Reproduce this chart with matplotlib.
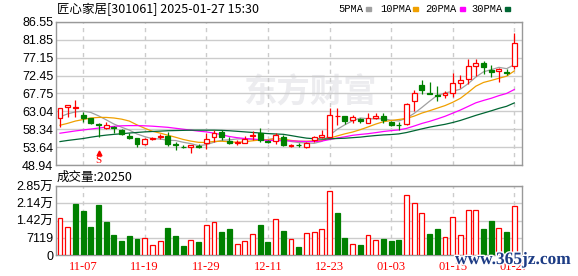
import matplotlib
matplotlib.use("Agg")
import matplotlib.pyplot as plt
from matplotlib.patches import Rectangle
import matplotlib.patheffects as pe

# -----------------------------
# Data
# -----------------------------
dates = ["11-04", "11-05", "11-06", "11-07", "11-08", "11-11", "11-12", "11-13", "11-14", "11-15",
         "11-18", "11-19", "11-20", "11-21", "11-22", "11-25", "11-26", "11-27", "11-28", "11-29",
         "12-02", "12-03", "12-04", "12-05", "12-06", "12-09", "12-10", "12-11", "12-12", "12-13",
         "12-16", "12-17", "12-18", "12-19", "12-20", "12-23", "12-24", "12-25", "12-26", "12-27",
         "12-30", "12-31", "01-02", "01-03", "01-06", "01-07", "01-08", "01-09", "01-10", "01-13",
         "01-14", "01-15", "01-16", "01-17", "01-20", "01-21", "01-22", "01-23", "01-24", "01-27"]

opens = [61.2, 64.3, 63.9, 62.1, 61.2, 59.7, 58.6, 59.0, 58.1, 56.6,
         56.0, 54.4, 55.8, 56.2, 56.6, 54.4, 53.8, 53.6, 54.0, 54.8,
         56.2, 57.7, 55.2, 54.8, 54.8, 56.5, 57.3, 55.3, 55.3, 56.4,
         53.9, 54.3, 53.8, 55.4, 56.4, 56.4, 61.7, 61.8, 60.8, 61.0,
         60.1, 61.4, 61.8, 60.3, 59.5, 59.7, 65.7, 70.0, 67.9, 67.3,
         67.3, 67.9, 70.4, 71.5, 75.1, 75.8, 73.9, 73.7, 73.4, 74.9]
highs = [64.0, 64.8, 66.0, 62.9, 61.4, 59.9, 60.3, 59.2, 58.5, 57.4,
         56.0, 56.0, 56.2, 57.0, 57.7, 55.1, 54.2, 54.3, 54.4, 57.3,
         58.1, 58.1, 56.4, 55.6, 56.6, 58.0, 58.6, 55.6, 57.4, 56.8,
         54.4, 54.6, 55.0, 56.5, 58.1, 63.8, 63.8, 61.9, 62.1, 61.4,
         62.7, 62.5, 62.5, 60.6, 60.3, 65.2, 68.6, 71.3, 70.8, 69.7,
         68.4, 73.2, 72.6, 76.7, 76.7, 76.4, 75.2, 74.4, 74.3, 83.7]
lows = [59.0, 61.6, 61.5, 60.3, 59.8, 56.4, 58.5, 57.4, 56.8, 55.9,
        53.7, 54.3, 55.6, 55.7, 54.0, 52.9, 53.4, 52.2, 53.4, 53.2,
        55.1, 55.5, 54.4, 54.2, 54.6, 55.5, 55.0, 54.8, 54.4, 53.9,
        53.6, 53.6, 53.5, 54.9, 56.0, 56.2, 59.4, 59.7, 59.9, 60.0,
        60.0, 61.0, 60.05, 59.2, 58.1, 59.5, 63.2, 67.6, 67.5, 65.8,
        66.6, 66.9, 69.3, 70.2, 72.3, 72.9, 72.1, 70.8, 72.6, 74.3]
closes = [63.9, 64.7, 64.1, 61.2, 59.9, 59.5, 59.4, 58.6, 57.0, 56.1,
          54.4, 55.9, 56.0, 56.5, 54.4, 54.1, 53.6, 54.2, 53.8, 55.7,
          57.3, 56.2, 54.8, 55.0, 55.7, 56.8, 55.5, 55.0, 56.8, 54.2,
          54.1, 54.1, 54.6, 56.2, 56.8, 62.1, 61.9, 60.6, 61.5, 60.4,
          61.2, 61.7, 60.8, 59.5, 59.4, 64.9, 68.0, 68.6, 67.7, 67.1,
          67.9, 70.4, 71.3, 74.9, 75.8, 74.8, 73.3, 74.3, 73.2, 80.9]

volumes = [15136, 11421, 21053, 18163, 11558, 20640, 13622, 8256, 5779, 7843,
           6605, 6880, 3990, 5642, 11146, 7843, 3715, 6054, 5366, 12384,
           13485, 9494, 10733, 4541, 5642, 8531, 12384, 5366, 14861, 9907,
           6467, 3302, 8944, 9357, 10595, 26419, 17338, 7018, 4403, 4128,
           8118, 6054, 6605, 5779, 6192, 24630, 21328, 17200, 8669, 10733,
           7293, 15549, 8118, 18576, 18576, 10733, 14035, 11146, 9494, 20250]
# 1 = up day (red hollow bar), 0 = down day (green bar)
vol_up = [1, 1, 0, 0, 0, 0, 0, 0, 0, 0,
          0, 1, 1, 1, 0, 0, 0, 1, 0, 1,
          1, 0, 0, 1, 1, 1, 0, 0, 1, 0,
          1, 0, 1, 1, 1, 1, 0, 0, 1, 0,
          1, 1, 0, 0, 0, 1, 1, 1, 0, 0,
          1, 1, 1, 1, 1, 0, 0, 1, 0, 1]

ma5 = [61.6, 62.4, 62.9, 63.1, 62.76, 61.88, 60.82, 59.72, 58.88, 58.12,
       57.10, 56.40, 55.88, 55.78, 55.44, 55.38, 54.92, 54.56, 54.02, 54.28,
       54.92, 55.44, 55.56, 55.80, 55.80, 55.70, 55.56, 55.60, 55.96, 55.66,
       55.12, 54.84, 54.76, 54.64, 55.16, 56.76, 58.32, 59.52, 60.58, 61.30,
       61.12, 61.08, 61.12, 60.72, 60.52, 61.26, 62.52, 64.08, 65.72, 67.26,
       67.86, 68.34, 68.88, 70.32, 72.06, 73.44, 74.02, 74.62, 74.28, 75.30]
ma10 = [59.4, 59.9, 60.5, 60.9, 61.3, 61.45, 61.45, 61.3, 61.0, 60.5,
        59.49, 58.61, 57.80, 57.33, 56.78, 56.24, 55.66, 55.22, 54.90, 54.86,
        55.15, 55.18, 55.06, 54.91, 55.04, 55.31, 55.50, 55.58, 55.88, 55.73,
        55.41, 55.20, 55.18, 55.30, 55.41, 55.94, 56.58, 57.14, 57.61, 58.23,
        58.94, 59.70, 60.32, 60.65, 60.91, 61.19, 61.80, 62.60, 63.22, 63.89,
        64.56, 65.43, 66.48, 68.02, 69.66, 70.65, 71.18, 71.75, 72.30, 73.68]
ma20 = [57.3, 57.6, 57.9, 58.15, 58.4, 58.65, 58.9, 59.1, 59.25, 59.3,
        59.3, 59.25, 59.15, 59.0, 58.85, 58.6, 58.35, 58.1, 57.85, 57.65,
        57.32, 56.90, 56.43, 56.12, 55.91, 55.78, 55.58, 55.40, 55.39, 55.30,
        55.28, 55.19, 55.12, 55.11, 55.23, 55.63, 56.04, 56.36, 56.75, 56.98,
        57.18, 57.45, 57.75, 57.98, 58.16, 58.57, 59.19, 59.87, 60.42, 61.06,
        61.75, 62.57, 63.40, 64.34, 65.29, 65.92, 66.49, 67.18, 67.76, 68.79]
ma30 = [55.1, 55.4, 55.65, 55.9, 56.25, 56.55, 56.8, 57.0, 57.15, 57.35,
        57.5, 57.65, 57.75, 57.85, 57.95, 58.0, 58.05, 58.1, 58.1, 58.1,
        58.1, 58.05, 57.95, 57.8, 57.65, 57.5, 57.35, 57.2, 57.1, 57.01,
        56.68, 56.33, 56.01, 55.85, 55.74, 55.83, 55.91, 55.98, 56.13, 56.27,
        56.50, 56.69, 56.85, 56.95, 57.12, 57.48, 57.96, 58.44, 58.90, 59.28,
        59.64, 60.11, 60.66, 61.32, 61.99, 62.59, 63.19, 63.83, 64.38, 65.27]

price_ticks = [48.94, 53.64, 58.34, 63.04, 67.75, 72.45, 77.15, 81.85, 86.55]
vol_ticks = [0, 7119, 14238, 21357, 28476]
vol_tick_labels = ["0", "7119", "1.42万", "2.14万", "2.85万"]
date_tick_idx = [3, 11, 19, 27, 35, 43, 51, 59]

title = "匠心家居[301061] 2025-01-27 15:30"
vol_title = "成交量:20250"
ma_names = ["5PMA", "10PMA", "20PMA", "30PMA"]

# -----------------------------
# Style
# -----------------------------
RED = "#ff0000"
GREEN = "#008000"
MA_COLORS = ["#a0a0a0", "#f0a000", "#ff00ff", "#006633"]
GRID = "#cccccc"
SPINE = "#999999"
CJK = ["Noto Sans CJK SC", "DejaVu Sans"]

W, H = 578, 276
fig = plt.figure(figsize=(W / 100, H / 100), dpi=100)


def box(l, t, r, b):
    return [l / W, 1 - b / H, (r - l) / W, (b - t) / H]


ax = fig.add_axes(box(56, 22, 522, 165))
axv = fig.add_axes(box(56, 186, 522, 255), sharex=ax)

x = list(range(len(dates)))
BW = 0.64

# -----------------------------
# Candles
# -----------------------------
for i in x:
    o, h, l, c = opens[i], highs[i], lows[i], closes[i]
    up = c >= o
    col = RED if up else GREEN
    ax.vlines(i, l, h, color=col, lw=0.9, zorder=3)
    lo = min(o, c)
    hgt = max(abs(c - o), 0.12)
    ax.bar(i, hgt, bottom=lo, width=BW, facecolor="white" if up else GREEN,
           edgecolor=col, lw=0.9, zorder=4)

for vals, col in zip([ma5, ma10, ma20, ma30], MA_COLORS):
    ax.plot(x, vals, color=col, lw=0.9, zorder=2.5)

ax.set_xlim(-0.52, 60.0)
ax.set_ylim(price_ticks[0], price_ticks[-1])
ax.set_yticks(price_ticks)
ax.set_yticklabels([f"{v:.2f}" for v in price_ticks], family="Liberation Sans", fontsize=9)
ax.set_axisbelow(True)
ax.yaxis.grid(True, color=GRID, lw=1)
ax.set_xticks(date_tick_idx)
ax.xaxis.grid(True, color=GRID, lw=1, linestyle=(0, (3, 3)))
ax.tick_params(axis="x", labelbottom=False, length=0)
ax.tick_params(axis="y", length=0, pad=2)

# watermark
ax.text(0.545, 0.5, "东方财富", transform=ax.transAxes, ha="center", va="center",
        fontsize=24, fontweight="bold", family=CJK, color="#ececef", zorder=0.2)

# sell mark
ax.text(5, 50.0, "S", color=RED, ha="center", va="center", fontsize=8,
        family="Liberation Serif", zorder=5)
ax.plot([5], [52.0], marker="^", color=RED, ms=3.5, zorder=5)

# -----------------------------
# Volume
# -----------------------------
for i in x:
    if vol_up[i]:
        axv.bar(i, volumes[i], width=BW, facecolor="white", edgecolor=RED, lw=0.9, zorder=3)
    else:
        axv.bar(i, volumes[i], width=BW, facecolor=GREEN, edgecolor=GREEN, lw=0.9, zorder=3)

axv.set_ylim(0, vol_ticks[-1])
axv.set_yticks(vol_ticks)
axv.set_yticklabels(vol_tick_labels, family=["Liberation Sans", "Noto Sans CJK SC"], fontsize=9)
axv.set_axisbelow(True)
axv.yaxis.grid(True, color=GRID, lw=1)
axv.xaxis.grid(True, color=GRID, lw=1, linestyle=(0, (3, 3)))
axv.set_xticks(date_tick_idx)
axv.set_xticklabels([dates[i] for i in date_tick_idx], color=RED,
                    family="Liberation Serif", fontsize=9)
axv.tick_params(axis="x", length=0, pad=4)
axv.tick_params(axis="y", length=0, pad=2)

for a in (ax, axv):
    for s in a.spines.values():
        s.set_color(SPINE)
        s.set_linewidth(1)

# -----------------------------
# Header texts and legend
# -----------------------------
fig.text(57 / W, 1 - 9 / H, title, family=CJK, fontsize=9, va="center", ha="left")
fig.text(57 / W, 1 - 177 / H, vol_title, family=CJK, fontsize=9, va="center", ha="left")

legend_x = [338, 380, 425.5, 471.5]
swatch_x = [366, 413, 460, 505]
for name, tx, sx, col in zip(ma_names, legend_x, swatch_x, MA_COLORS):
    fig.text(tx / W, 1 - 9 / H, name, family="Liberation Mono", fontsize=7.5,
             va="center", ha="left")
    fig.add_artist(Rectangle((sx / W, 1 - 10.5 / H), 5 / W, 3 / H,
                             transform=fig.transFigure, color=col))

fig.text(455 / W, 1 - 260 / H, "www.365jz.com", family="Liberation Serif",
         fontweight="bold", fontsize=12.5, color="#1d3c85", va="center", ha="left",
         path_effects=[pe.withStroke(linewidth=2, foreground="white")])

fig.savefig("out.png", dpi=100)
